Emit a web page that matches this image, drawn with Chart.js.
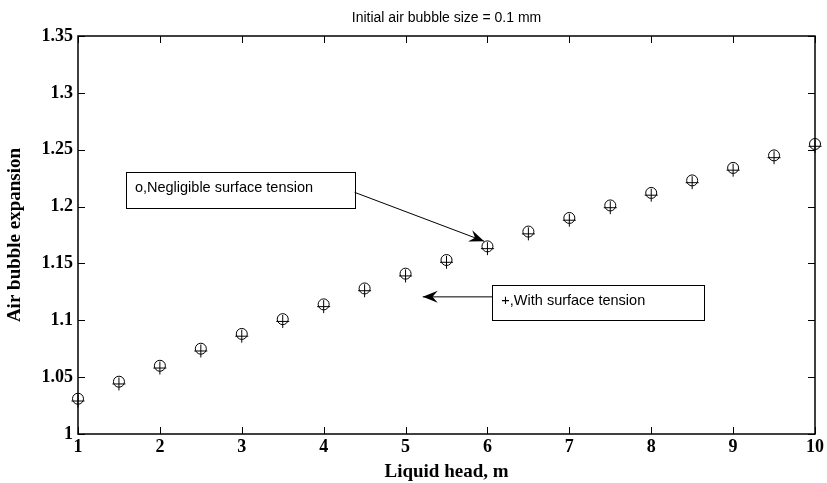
<!DOCTYPE html>
<html>
<head>
<meta charset="utf-8">
<script src="https://cdn.jsdelivr.net/npm/chart.js@4.4.0/dist/chart.umd.min.js"></script>
<style>
  body { margin: 0; background: #fff; }
  #wrap { width: 827px; height: 483px; }
</style>
</head>
<body>
<div id="wrap"><canvas id="myChart" width="827" height="483"></canvas></div>
<script>
const liquidHead = [1, 1.5, 2, 2.5, 3, 3.5, 4, 4.5, 5, 5.5, 6, 6.5, 7, 7.5, 8, 8.5, 9, 9.5, 10];
const negligibleTension = [1.031, 1.046, 1.060, 1.075, 1.088, 1.101, 1.114, 1.128, 1.141, 1.153, 1.165, 1.178, 1.190, 1.201, 1.212, 1.223, 1.234, 1.245, 1.255];
const withTension = [1.029, 1.044, 1.058, 1.073, 1.086, 1.099, 1.112, 1.126, 1.139, 1.151, 1.163, 1.176, 1.188, 1.199, 1.210, 1.221, 1.232, 1.243, 1.253];
const yTicks = [1, 1.05, 1.1, 1.15, 1.2, 1.25, 1.3, 1.35];
const xTicks = [1, 2, 3, 4, 5, 6, 7, 8, 9, 10];

// text boxes with arrows, in data units
const notes = [
  { text: 'o,Negligible surface tension', box: [1.585, 4.378, 1.2306, 1.199], from: [4.378, 1.2125], to: [5.96, 1.1695] },
  { text: '+,With surface tension', box: [6.06, 8.646, 1.131, 1.100], from: [6.06, 1.1206], to: [5.21, 1.1206] }
];

function toPoints(ys) {
  let pts = [];
  for (let i = 0; i < liquidHead.length; i++) {
    pts.push({ x: liquidHead[i], y: ys[i] });
  }
  return pts;
}

const extras = {
  id: 'extras',
  afterDraw(chart) {
    const ctx = chart.ctx;
    const a = chart.chartArea;
    const xs = chart.scales.x, ys = chart.scales.y;
    ctx.save();
    ctx.strokeStyle = '#000';
    ctx.fillStyle = '#000';
    // frame
    ctx.lineWidth = 1.5;
    ctx.strokeRect(a.left, a.top, a.right - a.left, a.bottom - a.top);
    // inward ticks on all four sides
    ctx.lineWidth = 1;
    ctx.beginPath();
    xTicks.forEach(v => {
      const p = Math.round(xs.getPixelForValue(v)) + 0.5;
      ctx.moveTo(p, a.bottom); ctx.lineTo(p, a.bottom - 7);
      ctx.moveTo(p, a.top); ctx.lineTo(p, a.top + 7);
    });
    yTicks.forEach(v => {
      const p = Math.round(ys.getPixelForValue(v)) + 0.5;
      ctx.moveTo(a.left, p); ctx.lineTo(a.left + 7, p);
      ctx.moveTo(a.right, p); ctx.lineTo(a.right - 7, p);
    });
    ctx.stroke();
    // title
    ctx.font = '14px "Liberation Sans", Arial, sans-serif';
    ctx.textAlign = 'center';
    ctx.textBaseline = 'middle';
    ctx.fillText('Initial air bubble size = 0.1 mm', (a.left + a.right) / 2, 18);
    // notes
    notes.forEach(n => {
      const l = xs.getPixelForValue(n.box[0]), r = xs.getPixelForValue(n.box[1]);
      const t = ys.getPixelForValue(n.box[2]), b = ys.getPixelForValue(n.box[3]);
      ctx.fillStyle = '#fff';
      ctx.fillRect(l, t, r - l, b - t);
      ctx.lineWidth = 1;
      ctx.strokeRect(Math.round(l) + 0.5, Math.round(t) + 0.5, Math.round(r - l), Math.round(b - t));
      ctx.fillStyle = '#000';
      ctx.font = '14.5px "Liberation Sans", Arial, sans-serif';
      ctx.textAlign = 'left';
      ctx.fillText(n.text, l + 9, (t + b) / 2 - 2);
      const x1 = xs.getPixelForValue(n.from[0]), y1 = ys.getPixelForValue(n.from[1]);
      const x2 = xs.getPixelForValue(n.to[0]), y2 = ys.getPixelForValue(n.to[1]);
      ctx.beginPath();
      ctx.moveTo(x1, y1); ctx.lineTo(x2, y2);
      ctx.stroke();
      const ang = Math.atan2(y2 - y1, x2 - x1);
      const len = 15, wid = 6;
      ctx.beginPath();
      ctx.moveTo(x2, y2);
      ctx.lineTo(x2 - len * Math.cos(ang) + wid * Math.sin(ang), y2 - len * Math.sin(ang) - wid * Math.cos(ang));
      ctx.lineTo(x2 - len * 0.65 * Math.cos(ang), y2 - len * 0.65 * Math.sin(ang));
      ctx.lineTo(x2 - len * Math.cos(ang) - wid * Math.sin(ang), y2 - len * Math.sin(ang) + wid * Math.cos(ang));
      ctx.closePath();
      ctx.fill();
    });
    ctx.restore();
  }
};

const tickFont = { family: '"Liberation Serif", "Times New Roman", serif', size: 18, weight: 'bold' };
const titleFont = { family: '"Liberation Serif", "Times New Roman", serif', size: 19, weight: 'bold' };

new Chart(document.getElementById('myChart'), {
  type: 'scatter',
  data: {
    datasets: [{
      label: 'Negligible surface tension',
      data: toPoints(negligibleTension),
      pointStyle: 'circle',
      pointRadius: 5.5,
      backgroundColor: 'rgba(0,0,0,0)',
      borderColor: '#000',
      borderWidth: 1,
      showLine: false,
      clip: false
    }, {
      label: 'With surface tension',
      data: toPoints(withTension),
      pointStyle: 'cross',
      pointRadius: 6.5,
      backgroundColor: '#000',
      borderColor: '#000',
      borderWidth: 1,
      showLine: false,
      clip: false
    }]
  },
  options: {
    responsive: false,
    animation: false,
    events: [],
    layout: { padding: { top: 36, right: 11, left: 4, bottom: 0 } },
    plugins: {
      legend: { display: false },
      title: { display: false },
      tooltip: { enabled: false }
    },
    scales: {
      x: {
        type: 'linear',
        min: 1, max: 10,
        afterFit: s => { s.height = 49; },
        afterBuildTicks: s => { s.ticks = xTicks.map(v => ({ value: v })); },
        grid: { display: false, drawTicks: false },
        border: { display: false },
        ticks: { color: '#000', font: tickFont, padding: 3, maxRotation: 0 },
        title: { display: true, text: 'Liquid head, m', color: '#000', font: titleFont, padding: { top: 0, bottom: 0 } }
      },
      y: {
        min: 1, max: 1.35,
        afterFit: s => { s.width = 74; },
        afterBuildTicks: s => { s.ticks = yTicks.map(v => ({ value: v })); },
        grid: { display: false, drawTicks: false },
        border: { display: false },
        ticks: { color: '#000', font: tickFont, padding: 5, callback: v => String(+v.toFixed(2)) },
        title: { display: true, text: 'Air bubble expansion', color: '#000', font: titleFont, padding: { top: 0, bottom: 0 } }
      }
    }
  },
  plugins: [extras]
});
</script>
</body>
</html>
